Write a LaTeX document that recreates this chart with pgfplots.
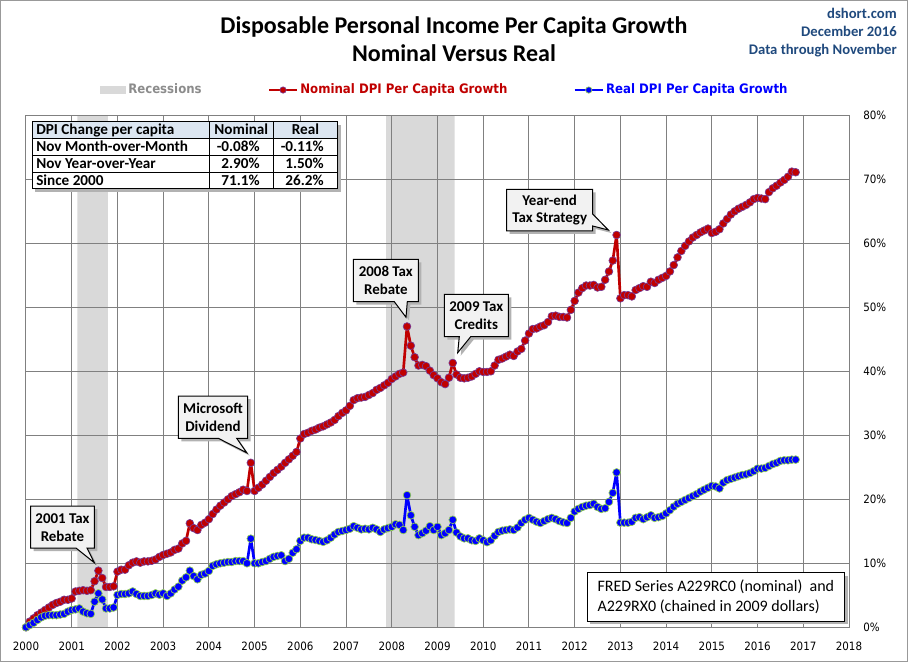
\documentclass[border=0pt]{standalone}
\usepackage{pgfplots}
\pgfplotsset{compat=1.18}
\usepackage{pgfplotstable}
\usepackage{fontspec}
\setmainfont{Carlito}
\newfontfamily\tah[FakeStretch=0.9]{DejaVu Sans}

\definecolor{gridgray}{RGB}{128,128,128}
\definecolor{recgray}{RGB}{217,217,217}
\definecolor{nomred}{RGB}{192,0,0}
\definecolor{nomedge}{RGB}{120,60,150}
\definecolor{realblue}{RGB}{0,0,255}
\definecolor{realedge}{RGB}{146,208,80}
\definecolor{navy}{RGB}{31,73,125}
\definecolor{hdrblue}{RGB}{220,230,241}
\definecolor{callfill}{RGB}{242,242,242}
\definecolor{legray}{RGB}{140,140,140}

% month index (0 = Jan 2000), nominal and real growth since Jan 2000, %
\pgfplotstableread{
m nom real
0 0 0
1 0.9 0.35
2 1.4 0.7
3 1.9 1.15
4 2.3 1.55
5 2.7 1.8
6 3.1 1.9
7 3.5 1.9
8 3.8 1.9
9 4.0 2.0
10 4.3 2.1
11 4.3 2.45
12 4.5 2.7
13 5.6 2.8
14 5.7 2.95
15 5.8 2.45
16 5.7 2.2
17 5.8 2.1
18 7.2 4.0
19 8.85 5.3
20 7.7 4.35
21 6.3 2.95
22 6.3 2.95
23 6.4 3.1
24 8.7 5.05
25 9.0 5.2
26 9.0 5.2
27 9.7 5.3
28 10.1 5.6
29 10.3 5.2
30 10.1 4.9
31 10.3 4.9
32 10.3 4.9
33 10.4 5.05
34 10.6 5.3
35 11.0 5.1
36 11.3 5.3
37 11.5 4.9
38 11.7 5.3
39 12.1 5.9
40 12.3 6.35
41 13.1 7.3
42 13.5 7.8
43 16.25 8.85
44 15.5 8.0
45 15.2 7.5
46 16.0 8.2
47 16.35 8.4
48 16.9 8.8
49 17.7 9.6
50 18.4 9.85
51 19.0 10.0
52 19.5 10.1
53 20.0 10.2
54 20.5 10.2
55 20.8 10.35
56 21.1 10.35
57 21.5 10.35
58 21.3 10.0
59 25.7 13.85
60 21.3 10.0
61 21.8 10.0
62 22.3 10.2
63 22.9 10.35
64 23.5 10.7
65 24.1 11.0
66 24.6 11.15
67 25.1 11.25
68 25.7 10.35
69 26.25 10.7
70 26.8 11.65
71 27.4 12.2
72 29.5 13.5
73 30.2 14.0
74 30.4 14.0
75 30.7 13.75
76 30.9 13.65
77 31.2 13.5
78 31.4 13.35
79 31.7 13.6
80 32.0 14.0
81 32.4 14.5
82 33.0 14.9
83 33.5 15.05
84 33.9 15.2
85 34.6 15.4
86 35.5 15.8
87 35.8 15.55
88 35.9 15.3
89 36.0 15.4
90 36.3 15.3
91 36.6 15.55
92 37.1 15.3
93 37.4 14.9
94 37.8 15.3
95 38.2 15.5
96 38.8 15.7
97 39.2 16.1
98 39.6 16.0
99 39.8 15.2
100 47.0 20.65
101 44.0 17.5
102 42.2 15.7
103 40.9 14.4
104 41.0 14.7
105 40.8 15.1
106 40.1 15.8
107 39.4 15.2
108 38.9 15.7
109 38.3 14.4
110 38.0 14.7
111 39.0 15.2
112 41.3 16.8
113 39.5 14.8
114 39.0 14.2
115 38.9 13.9
116 39.0 13.9
117 39.2 13.6
118 39.6 13.5
119 40.0 13.9
120 39.9 13.6
121 39.9 13.3
122 40.0 13.6
123 40.9 14.3
124 41.8 14.9
125 42.0 15.1
126 42.3 15.2
127 42.6 15.3
128 42.4 15.2
129 43.1 15.6
130 43.5 16.3
131 44.8 16.8
132 45.9 17.1
133 46.6 16.8
134 46.7 16.5
135 47.0 16.3
136 47.2 16.6
137 47.7 16.9
138 48.6 17.1
139 48.7 16.9
140 48.5 16.6
141 48.5 16.4
142 48.4 16.3
143 49.6 17.1
144 51.0 18.1
145 52.3 18.5
146 53.0 18.8
147 53.4 19.0
148 53.4 19.1
149 53.5 19.3
150 53.1 18.8
151 53.2 18.5
152 54.3 18.6
153 55.6 19.6
154 57.3 21.0
155 61.3 24.2
156 51.4 16.35
157 51.9 16.35
158 51.9 16.35
159 51.7 16.5
160 52.7 17.1
161 53.0 17.2
162 53.3 16.9
163 53.2 17.2
164 54.0 17.5
165 53.8 17.1
166 54.3 17.2
167 54.6 17.4
168 54.9 17.8
169 55.6 18.3
170 56.6 18.85
171 57.8 19.3
172 58.8 19.6
173 59.6 19.9
174 60.3 20.2
175 60.9 20.5
176 61.3 20.8
177 61.7 21.2
178 62.0 21.5
179 62.3 21.8
180 61.6 22.1
181 61.8 22.0
182 62.2 21.7
183 63.1 22.6
184 63.8 23.0
185 64.5 23.2
186 65.0 23.4
187 65.4 23.6
188 65.7 23.8
189 66.0 23.9
190 66.4 24.1
191 66.9 24.4
192 67.1 24.8
193 67.0 24.8
194 66.9 24.9
195 68.0 25.2
196 68.6 25.5
197 69.0 25.7
198 69.5 26.0
199 69.9 26.1
200 70.4 26.1
201 71.2 26.2
202 71.1 26.2
}\dpi

\tikzset{img/.style={x=0.75pt, y=-0.75pt, shift={(-19.5pt,470.475pt)}}}

\begin{document}
\begin{tikzpicture}
\begin{scope}[img]
  \path[use as bounding box] (0,0) rectangle (908,662);
\end{scope}

\begin{axis}[
  scale only axis, width=617.25pt, height=384pt,
  xmin=0, xmax=216, ymin=0, ymax=80,
  xtick={0,12,...,216},
  xticklabels={2000,2001,2002,2003,2004,2005,2006,2007,2008,2009,2010,2011,2012,2013,2014,2015,2016,2017,2018},
  ytick={0,10,...,80},
  yticklabels={0\%,10\%,20\%,30\%,40\%,50\%,60\%,70\%,80\%},
  yticklabel pos=right,
  grid=major,
  major grid style={draw=gridgray, line width=0.75pt},
  axis line style={draw=gridgray, line width=0.75pt},
  major tick length=0pt,
  ticklabel style={font=\tah\fontsize{8.6}{10}\selectfont, text=black},
  xticklabel style={anchor=north, inner sep=0pt, yshift=-10.5pt},
  yticklabel style={anchor=west, inner sep=0pt, xshift=10.5pt},
  set layers,
  legend columns=3,
  legend style={at={(axis description cs:0.0899,1.0494)}, anchor=west,
    draw=none, fill=none, inner sep=0pt,
    font=\tah\bfseries\fontsize{9.8}{12}\selectfont,
    nodes={inner xsep=1.5pt, inner ysep=0pt},
    /tikz/every even column/.append style={column sep=48pt}},
]
\addplot[fill=recgray, draw=none, on layer=axis background,
  legend image code/.code={\fill[recgray] (0pt,-3pt) rectangle (19.5pt,3pt);}]
  coordinates {(13.5,0) (13.5,80) (21.5,80) (21.5,0)} \closedcycle;
\addlegendentry{\textcolor{legray}{Recessions}}
\addplot[fill=recgray, draw=none, on layer=axis background, forget plot]
  coordinates {(94.5,0) (94.5,80) (112.5,80) (112.5,0)} \closedcycle;

\addplot[draw=nomred, line width=2pt, line join=round, mark=*, mark size=2.9pt,
  mark options={fill=nomred, draw=nomedge, line width=0.5pt},
  legend image code/.code={\draw[mark repeat=2, mark phase=2, mark size=2.4pt] plot coordinates {(0pt,0pt) (10.5pt,0pt) (21pt,0pt)};}]
  table[x=m, y=nom] {\dpi};
\addlegendentry{\textcolor{nomred}{Nominal DPI Per Capita Growth}}

\addplot[draw=realblue, line width=2pt, line join=round, mark=*, mark size=2.9pt,
  mark options={fill=realblue, draw=realedge, line width=0.5pt},
  legend image code/.code={\draw[mark repeat=2, mark phase=2, mark size=2.4pt] plot coordinates {(0pt,0pt) (10.5pt,0pt) (21pt,0pt)};}]
  table[x=m, y=real] {\dpi};
\addlegendentry{\textcolor{realblue}{Real DPI Per Capita Growth}}
\end{axis}

\begin{scope}[img]
  % frame
  \draw[draw=gray!80, line width=0.75pt] (0.5,0.5) rectangle (907.5,661.5);
  % titles
  \node[anchor=base, font=\bfseries\fontsize{18}{22}\selectfont] at (454,33.3) {Disposable Personal Income Per Capita Growth};
  \node[anchor=base, font=\bfseries\fontsize{18}{22}\selectfont] at (454,61.7) {Nominal Versus Real};
  \node[anchor=base east, inner sep=0pt, text=navy, font=\bfseries\fontsize{11}{13}\selectfont] at (897,19) {dshort.com};
  \node[anchor=base east, inner sep=0pt, text=navy, font=\bfseries\fontsize{11}{13}\selectfont] at (897,36.7) {December 2016};
  \node[anchor=base east, inner sep=0pt, text=navy, font=\bfseries\fontsize{11}{13}\selectfont] at (897,54.3) {Data through November};

  % summary table
  \fill[black!30] (35.3,124.7) rectangle (340.7,192);
  \fill[hdrblue] (32.3,121.7) rectangle (337.7,138.3);
  \fill[white] (32.3,138.3) rectangle (337.7,189);
  \draw[black, line width=0.75pt] (32.3,121.7) rectangle (337.7,189);
  \draw[black, line width=0.75pt] (32.3,138.3) -- (337.7,138.3)
    (32.3,155.7) -- (337.7,155.7) (32.3,172.3) -- (337.7,172.3)
    (209.3,121.7) -- (209.3,189) (273.3,121.7) -- (273.3,189);
  \begin{scope}[every node/.style={inner sep=0pt, font=\bfseries\fontsize{11.4}{13}\selectfont}]
    \node[anchor=base west] at (36,134.5) {DPI Change per capita};
    \node[anchor=base] at (241.3,134.5) {Nominal};
    \node[anchor=base] at (305.5,134.5) {Real};
    \node[anchor=base west] at (36,151.5) {Nov Month-over-Month};
    \node[anchor=base east] at (260,151.5) {-0.08\%};
    \node[anchor=base east] at (324,151.5) {-0.11\%};
    \node[anchor=base west] at (36,168.3) {Nov Year-over-Year};
    \node[anchor=base east] at (260,168.3) {2.90\%};
    \node[anchor=base east] at (324,168.3) {1.50\%};
    \node[anchor=base west] at (36,185.3) {Since 2000};
    \node[anchor=base east] at (260,185.3) {71.1\%};
    \node[anchor=base east] at (324,185.3) {26.2\%};
  \end{scope}

  % callouts
  \tikzset{co/.style={fill=callfill, draw=black, line width=0.75pt, line join=miter},
           cosh/.style={fill=black!30, shift={(3,3)}},
           cotxt/.style={align=center, inner sep=0pt, font=\bfseries\fontsize{11.2}{13}\selectfont}}
  \foreach \s in {cosh,co}{
    \path[\s] (30.7,506) -- (94.3,506) -- (94.3,548) -- (87,548) -- (94.3,562.7) -- (76,548) -- (30.7,548) -- cycle;
    \path[\s] (178.3,396) -- (247.7,396) -- (247.7,438.3) -- (236.7,438.3) -- (246.7,452.7) -- (218.3,438.3) -- (178.3,438.3) -- cycle;
    \path[\s] (353.3,259.3) -- (418.3,259.3) -- (418.3,301.7) -- (407.3,301.7) -- (406,317.3) -- (394.3,301.7) -- (353.3,301.7) -- cycle;
    \path[\s] (444.3,294.3) -- (508.3,294.3) -- (508.3,336.7) -- (470.7,336.7) -- (457.7,352.7) -- (459.3,336.7) -- (444.3,336.7) -- cycle;
    \path[\s] (506.7,189.3) -- (592.7,189.3) -- (592.7,214) -- (608.3,230) -- (592.7,226) -- (592.7,231) -- (506.7,231) -- cycle;
  }
  \node[cotxt] at (62.5,527.5) {2001 Tax\\Rebate};
  \node[cotxt] at (213,417.2) {Microsoft\\Dividend};
  \node[cotxt] at (385.8,280.5) {2008 Tax\\Rebate};
  \node[cotxt] at (476.3,315.5) {2009 Tax\\Credits};
  \node[cotxt] at (549.7,210.2) {Year-end\\Tax Strategy};

  % source note
  \fill[black!30] (590.3,575.7) rectangle (847.7,624);
  \draw[fill=white, draw=black, line width=0.75pt] (587.3,572.7) rectangle (844.7,621);
  \node[anchor=base west, inner sep=0pt, font=\fontsize{12}{14}\selectfont] at (597.3,591) {FRED Series A229RC0 (nominal)\ \ and};
  \node[anchor=base west, inner sep=0pt, font=\fontsize{12}{14}\selectfont] at (597.3,611) {A229RX0 (chained in 2009 dollars)};
\end{scope}
\end{tikzpicture}
\end{document}
